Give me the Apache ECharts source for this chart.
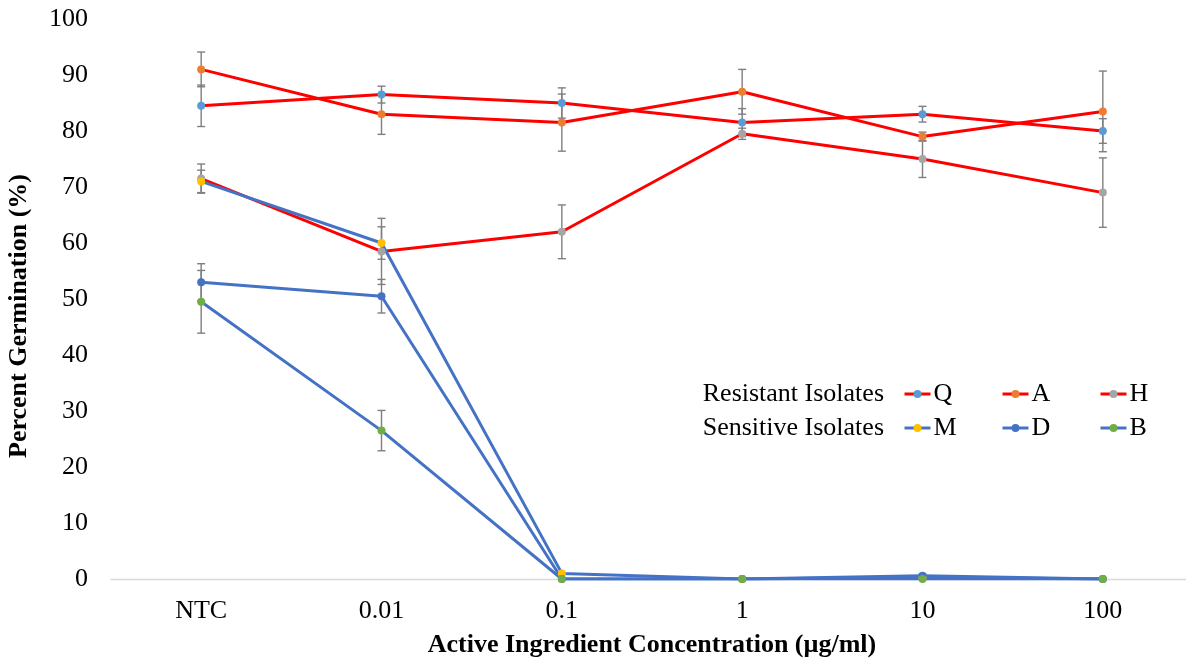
<!DOCTYPE html>
<html>
<head>
<meta charset="utf-8">
<script src="https://cdn.jsdelivr.net/npm/echarts@6/dist/echarts.min.js"></script>
<style>html,body{margin:0;padding:0;background:#fff;}#main{width:1186px;height:659px;}</style>
</head>
<body>
<div id="main"></div>
<script>
const categories = ['NTC', '0.01', '0.1', '1', '10', '100'];
const yTicks = [0, 10, 20, 30, 40, 50, 60, 70, 80, 90, 100];

const Q = [84.5, 86.5, 85, 81.5, 83, 80];
const Qerr = [3.7, 1.5, 2.7, 2.5, 1.4, 2.2];
const A = [91, 83, 81.5, 87, 79, 83.5];
const Aerr = [3.1, 3.6, 5.1, 4, 0.8, 7.2];
const H = [71.5, 58.5, 62, 79.5, 75, 69];
const Herr = [2.6, 5.9, 4.8, 1, 3.3, 6.2];
const M = [71, 60, 1, 0, 0.3, 0];
const Merr = [2, 2.9, 0, 0, 0, 0];
const D = [53, 50.5, 0, 0, 0.6, 0];
const Derr = [3.3, 3, 0, 0, 0.3, 0];
const B = [49.5, 26.5, 0, 0, 0, 0];
const Berr = [5.6, 3.6, 0, 0, 0, 0];

const seriesDefs = [
  {name: 'Q', data: Q, err: Qerr, line: '#FF0000', mark: '#5B9BD5'},
  {name: 'A', data: A, err: Aerr, line: '#FF0000', mark: '#ED7D31'},
  {name: 'H', data: H, err: Herr, line: '#FF0000', mark: '#A5A5A5'},
  {name: 'M', data: M, err: Merr, line: '#4472C4', mark: '#FFC000'},
  {name: 'D', data: D, err: Derr, line: '#4472C4', mark: '#4472C4'},
  {name: 'B', data: B, err: Berr, line: '#4472C4', mark: '#70AD47'}
];

const FONT = '"Liberation Serif", "Times New Roman", serif';

const series = [];
seriesDefs.forEach(function (s) {
  series.push({
    type: 'custom',
    name: 'err' + s.name,
    z: 1,
    silent: true,
    clip: false,
    data: s.data.map(function (v, i) { return [i, v, s.err[i]]; }),
    encode: {x: 0, y: 1},
    renderItem: function (params, api) {
      const e = api.value(2);
      if (!e) return null;
      const top = api.coord([api.value(0), api.value(1) + e]);
      const bot = api.coord([api.value(0), api.value(1) - e]);
      const w = 4;
      const st = {stroke: '#7F7F7F', lineWidth: 1.4};
      return {
        type: 'group',
        children: [
          {type: 'line', shape: {x1: top[0], y1: top[1], x2: bot[0], y2: bot[1]}, style: st},
          {type: 'line', shape: {x1: top[0] - w, y1: top[1], x2: top[0] + w, y2: top[1]}, style: st},
          {type: 'line', shape: {x1: bot[0] - w, y1: bot[1], x2: bot[0] + w, y2: bot[1]}, style: st}
        ]
      };
    }
  });
});
seriesDefs.forEach(function (s) {
  series.push({
    type: 'line',
    name: s.name,
    z: 2,
    data: s.data,
    symbol: 'circle',
    symbolSize: 8,
    showAllSymbol: true,
    lineStyle: {color: s.line, width: 3},
    itemStyle: {color: s.mark},
    emphasis: {disabled: true},
    animation: false
  });
});

const legendPos = [
  {name: 'Q', left: 903, top: 394},
  {name: 'A', left: 1001, top: 394},
  {name: 'H', left: 1099, top: 394},
  {name: 'M', left: 903, top: 428},
  {name: 'D', left: 1001, top: 428},
  {name: 'B', left: 1099, top: 428}
];
const legends = legendPos.map(function (p) {
  return {
    data: [p.name],
    left: p.left,
    top: p.top - 13,
    padding: 0,
    itemWidth: 26,
    itemHeight: 10,
    selectedMode: false,
    lineStyle: {width: 3},
    textStyle: {fontFamily: FONT, fontSize: 26, color: '#000', padding: [0, 0, 0, -2], lineHeight: 26}
  };
});

const chart = echarts.init(document.getElementById('main'));
chart.setOption({
  animation: false,
  backgroundColor: '#fff',
  grid: {left: 111, width: 1082, top: 19, bottom: 80, containLabel: false, outerBoundsMode: 'none'},
  xAxis: {
    type: 'category',
    data: categories,
    boundaryGap: true,
    axisLine: {show: true, lineStyle: {color: '#D9D9D9', width: 1.3}},
    axisTick: {show: false},
    axisLabel: {fontFamily: FONT, fontSize: 26, color: '#000', margin: 19},
    splitLine: {show: false}
  },
  yAxis: {
    type: 'value',
    min: yTicks[0],
    max: yTicks[yTicks.length - 1],
    interval: 10,
    axisLine: {show: false},
    axisTick: {show: false},
    splitLine: {show: false},
    axisLabel: {fontFamily: FONT, fontSize: 26, color: '#000', margin: 23}
  },
  legend: legends,
  graphic: [
    {type: 'text', x: 884, y: 394, style: {text: 'Resistant Isolates', font: '26px ' + FONT, fill: '#000', align: 'right', verticalAlign: 'middle'}},
    {type: 'text', x: 884, y: 428, style: {text: 'Sensitive Isolates', font: '26px ' + FONT, fill: '#000', align: 'right', verticalAlign: 'middle'}},
    {type: 'text', x: 652, y: 645, style: {text: 'Active Ingredient Concentration (µg/ml)', font: 'bold 26px ' + FONT, fill: '#000', align: 'center', verticalAlign: 'middle'}},
    {type: 'text', x: 19, y: 316, rotation: Math.PI / 2, style: {text: 'Percent Germination (%)', font: 'bold 26px ' + FONT, fill: '#000', align: 'center', verticalAlign: 'middle'}}
  ],
  series: series
});
</script>
</body>
</html>
